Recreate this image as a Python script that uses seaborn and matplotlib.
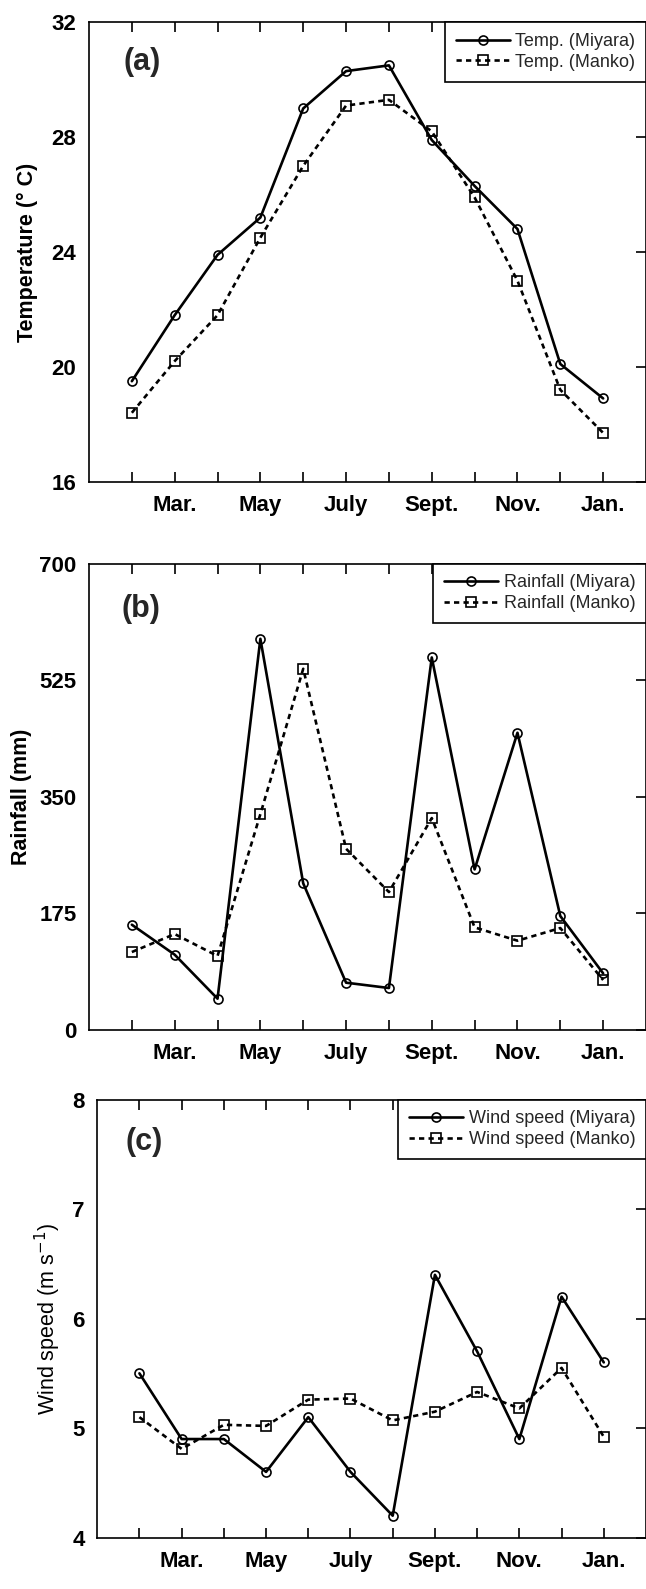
import numpy as np
import pandas as pd
import matplotlib
matplotlib.use("Agg")
import matplotlib.pyplot as plt
import seaborn as sns

# Monthly series, February through January
months = ["Feb", "Mar", "Apr", "May", "Jun", "Jul", "Aug", "Sep", "Oct", "Nov", "Dec", "Jan"]
tick_labels = ["Mar.", "May", "July", "Sept.", "Nov.", "Jan."]

temp_miyara = [19.5, 21.8, 23.9, 25.2, 29.0, 30.3, 30.5, 27.9, 26.3, 24.8, 20.1, 18.9]
temp_manko = [18.4, 20.2, 21.8, 24.5, 27.0, 29.1, 29.3, 28.2, 25.9, 23.0, 19.2, 17.7]

rain_miyara = [158, 113, 47, 587, 220, 71, 63, 559, 241, 446, 171, 85]
rain_manko = [117, 144, 111, 324, 542, 272, 207, 318, 154, 134, 153, 75]

wind_miyara = [5.5, 4.9, 4.9, 4.6, 5.1, 4.6, 4.2, 6.4, 5.7, 4.9, 6.2, 5.6]
wind_manko = [5.1, 4.81, 5.03, 5.02, 5.26, 5.27, 5.07, 5.15, 5.33, 5.18, 5.55, 4.92]

sns.set_theme(style="white")
plt.rcParams["font.family"] = ["Liberation Sans", "DejaVu Sans"]

W, H = 646, 1589
fig = plt.figure(figsize=(W / 100, H / 100), dpi=100)
fig.patch.set_facecolor("white")


def panel(rect, miyara, manko, names, ylim, yticks, ylabel, ylabel_weight,
          letter, label_x, letter_xy):
    ax = fig.add_axes(rect)
    df = pd.DataFrame({"pos": np.arange(1, len(months) + 1),
                       "month": months, "Miyara": miyara, "Manko": manko})
    sns.lineplot(data=df, x="pos", y="Miyara", ax=ax, color="black", lw=1.9,
                 linestyle="-", marker="o", ms=6.5, mew=1.2, mec="black",
                 fillstyle="none", label=names[0])
    sns.lineplot(data=df, x="pos", y="Manko", ax=ax, color="black", lw=1.9,
                 linestyle=(0, (2.0, 1.6)), marker="s", ms=6.5, mew=1.2,
                 mec="black", fillstyle="none", label=names[1])

    ax.set_xlim(0, 13)
    ax.set_ylim(*ylim)
    ax.set_xticks(np.arange(1, 13))
    ax.set_xticklabels([tick_labels[(p // 2) - 1] if p % 2 == 0 else ""
                        for p in range(1, 13)])
    ax.set_yticks(yticks)
    ax.set_yticklabels([str(v) for v in yticks])
    ax.tick_params(axis="x", direction="in", top=True, bottom=True,
                   length=7, width=1.2, pad=9.5, labelsize=16, colors="black")
    ax.tick_params(axis="y", direction="in", left=False, right=True,
                   length=7, width=1.2, pad=9, labelsize=16, colors="black")
    for t in ax.get_xticklabels() + ax.get_yticklabels():
        t.set_fontweight("bold")

    for s in ax.spines.values():
        s.set_color("black")
        s.set_linewidth(1.2)

    ax.set_xlabel("")
    ax.set_ylabel(ylabel, fontsize=15.5, fontweight=ylabel_weight, color="black")
    ax.yaxis.set_label_coords(label_x, 0.5)

    ax.text(letter_xy[0], letter_xy[1], letter, transform=ax.transAxes,
            fontsize=22, fontweight="bold", ha="left", va="center")

    leg = ax.legend(loc="upper right", fontsize=13, frameon=True, fancybox=False,
                    edgecolor="black", framealpha=1, borderaxespad=0,
                    handlelength=3.0, handletextpad=0.3, labelspacing=0.2,
                    borderpad=0.6)
    leg.get_frame().set_linewidth(1.2)
    return ax


panel([89 / W, 1 - 481.7 / H, 557 / W, 459.4 / H], temp_miyara, temp_manko,
      ["Temp. (Miyara)", "Temp. (Manko)"], (16, 32), [16, 20, 24, 28, 32],
      "Temperature (° C)", "bold", "(a)", -0.091, (0.062, 0.9136))

panel([89 / W, 1 - 1030 / H, 557 / W, 466.5 / H], rain_miyara, rain_manko,
      ["Rainfall (Miyara)", "Rainfall (Manko)"], (0, 700), [0, 175, 350, 525, 700],
      "Rainfall (mm)", "bold", "(b)", -0.102, (0.058, 0.903))

panel([97.2 / W, 1 - 1537.6 / H, 548.8 / W, 438 / H], wind_miyara, wind_manko,
      ["Wind speed (Miyara)", "Wind speed (Manko)"], (4, 8), [4, 5, 6, 7, 8],
      "Wind speed (m s$^{-1}$)", "normal", "(c)", -0.062, (0.052, 0.903))

fig.savefig("out.png", dpi=100, facecolor="white")
